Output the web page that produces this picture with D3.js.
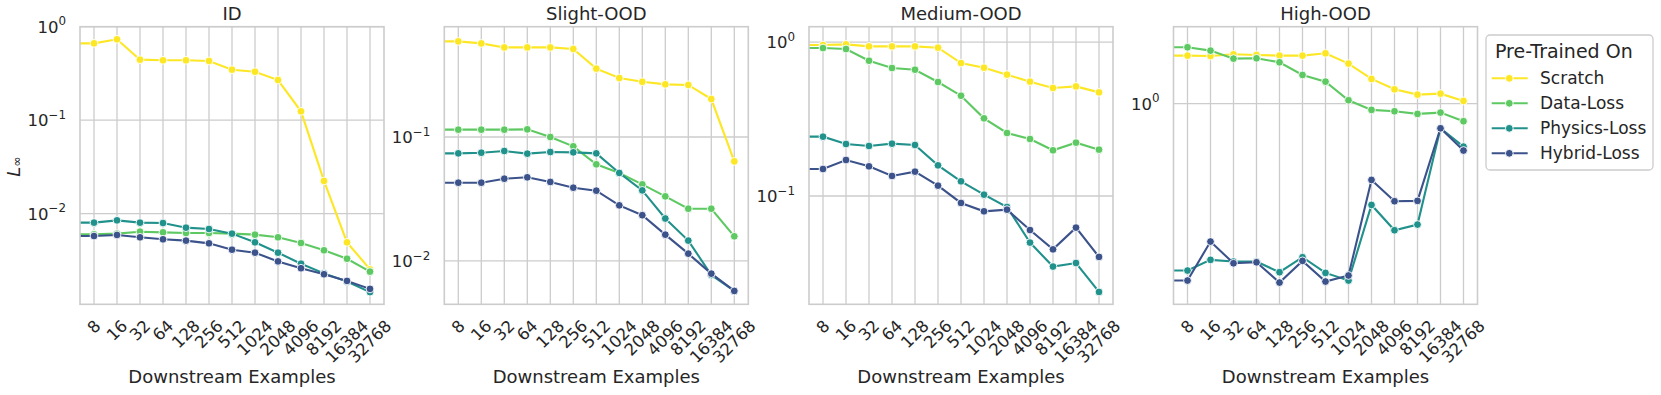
<!DOCTYPE html>
<html>
<head>
<meta charset="utf-8">
<script src="https://cdn.jsdelivr.net/npm/d3@7"></script>
<style>
  body { margin: 0; background: #fff; }
  svg { font-family: "DejaVu Sans", sans-serif; fill: #262626; }
</style>
</head>
<body>
<svg id="chart" width="1661" height="395"></svg>
<script>
// downstream example counts (4 sits left of the visible range, only its segment shows)
const downstream = [4, 8, 16, 32, 64, 128, 256, 512, 1024, 2048, 4096, 8192, 16384, 32768];
const xTicks = [8, 16, 32, 64, 128, 256, 512, 1024, 2048, 4096, 8192, 16384, 32768];
const methods = ["Scratch", "Data-Loss", "Physics-Loss", "Hybrid-Loss"];
const colors = ["#fde725", "#5ec962", "#21918c", "#3b528b"];
const panelTitles = ["ID", "Slight-OOD", "Medium-OOD", "High-OOD"];

// ID
const idScratch = [0.664, 0.664, 0.733, 0.444, 0.437, 0.437, 0.430, 0.347, 0.330, 0.269, 0.1244, 0.0224, 0.00494, 0.00254];
const idData    = [0.00602, 0.00602, 0.00612, 0.00642, 0.00632, 0.00622, 0.00622, 0.00612, 0.00597, 0.00559, 0.00486, 0.00406, 0.00330, 0.00240];
const idPhysics = [0.00802, 0.00802, 0.00849, 0.00802, 0.00795, 0.00709, 0.00686, 0.00612, 0.00494, 0.00383, 0.00292, 0.00230, 0.00188, 0.00145];
const idHybrid  = [0.00577, 0.00577, 0.00592, 0.00559, 0.00532, 0.00515, 0.00482, 0.00412, 0.00383, 0.00309, 0.00261, 0.00225, 0.00191, 0.00157];

// Slight-OOD
const slightScratch = [0.591, 0.591, 0.569, 0.528, 0.528, 0.528, 0.513, 0.356, 0.299, 0.279, 0.266, 0.263, 0.2025, 0.0636];
const slightData    = [0.1146, 0.1146, 0.1146, 0.1146, 0.1153, 0.100, 0.0841, 0.0602, 0.0513, 0.0415, 0.0332, 0.0264, 0.0264, 0.0158];
const slightPhysics = [0.0738, 0.0738, 0.0747, 0.0771, 0.0734, 0.0757, 0.0752, 0.0738, 0.0513, 0.0371, 0.0220, 0.0146, 0.00771, 0.00573];
const slightHybrid  = [0.0428, 0.0428, 0.0428, 0.0461, 0.0473, 0.0434, 0.0390, 0.0369, 0.0281, 0.0234, 0.0163, 0.01146, 0.00790, 0.00573];

// Medium-OOD
const mediumScratch = [0.956, 0.956, 0.966, 0.937, 0.937, 0.937, 0.919, 0.730, 0.681, 0.614, 0.553, 0.503, 0.515, 0.471];
const mediumData    = [0.914, 0.914, 0.901, 0.756, 0.678, 0.661, 0.550, 0.448, 0.3194, 0.2565, 0.2345, 0.198, 0.222, 0.200];
const mediumPhysics = [0.2428, 0.2428, 0.2176, 0.2112, 0.2187, 0.2144, 0.1581, 0.1245, 0.1020, 0.0848, 0.0498, 0.0348, 0.0367, 0.0238];
const mediumHybrid  = [0.1497, 0.1497, 0.1713, 0.1558, 0.1349, 0.1439, 0.1167, 0.0901, 0.0795, 0.0815, 0.0601, 0.0450, 0.0623, 0.0402];

// High-OOD
const highScratch = [1.617, 1.617, 1.611, 1.638, 1.627, 1.617, 1.617, 1.655, 1.493, 1.280, 1.154, 1.094, 1.105, 1.027];
const highData    = [1.758, 1.758, 1.700, 1.569, 1.574, 1.512, 1.332, 1.246, 1.034, 0.939, 0.926, 0.902, 0.914, 0.838];
const highPhysics = [0.1879, 0.1879, 0.2091, 0.2056, 0.2056, 0.1848, 0.2147, 0.1835, 0.1700, 0.3625, 0.2813, 0.2978, 0.781, 0.650];
const highHybrid  = [0.1700, 0.1700, 0.2512, 0.2021, 0.2041, 0.1666, 0.2070, 0.1683, 0.1788, 0.4657, 0.3762, 0.3775, 0.781, 0.625];

// y ranges and y ticks per panel
const yDomains = [[0.001074, 1.0], [0.004472, 0.7759], [0.01979, 1.2577], [0.134, 2.16]];
const yTicks = [[0.01, 0.1, 1], [0.01, 0.1], [0.1, 1], [1]];

const panelSeries = [
  [idScratch, idData, idPhysics, idHybrid],
  [slightScratch, slightData, slightPhysics, slightHybrid],
  [mediumScratch, mediumData, mediumPhysics, mediumHybrid],
  [highScratch, highData, highPhysics, highHybrid]
];

const svg = d3.select("#chart");
const panelLefts = [80, 444.3, 809, 1173.5];
const panelW = 304, axTop = 26.7, panelH = 277.6;
const gridColor = "#cccccc";
const tickFont = 16.5;

/* superscript-style log tick label */
function expLabel(sel, v) {
  const e = Math.round(Math.log10(v));
  sel.append("tspan").text("10");
  sel.append("tspan").attr("dy", "-0.45em").style("font-size", "0.72em")
    .text(e < 0 ? "\u2212" + (-e) : String(e));
}

panelSeries.forEach((series, p) => {
  const g = svg.append("g").attr("transform", `translate(${panelLefts[p]},${axTop})`);

  // keep 8 and 32768 about 0.61 octave from the spines
  const pad = Math.pow(2, 14 / 23);
  const x = d3.scaleLog().base(2).domain([8 / pad, 32768 * pad]).range([0, panelW]);
  const y = d3.scaleLog().domain(yDomains[p]).range([panelH, 0]);

  // grid
  g.append("g").selectAll("line").data(xTicks).join("line")
    .attr("x1", d => x(d)).attr("x2", d => x(d)).attr("y1", 0).attr("y2", panelH)
    .attr("stroke", gridColor).attr("stroke-width", 1.3);
  g.append("g").selectAll("line").data(yTicks[p]).join("line")
    .attr("x1", 0).attr("x2", panelW).attr("y1", d => y(d)).attr("y2", d => y(d))
    .attr("stroke", gridColor).attr("stroke-width", 1.3);

  // series
  const clipId = `clip-${p}`;
  g.append("clipPath").attr("id", clipId).append("rect")
    .attr("width", panelW).attr("height", panelH);
  const plot = g.append("g").attr("clip-path", `url(#${clipId})`);
  const line = d3.line().x(d => x(d[0])).y(d => y(d[1]));

  series.forEach((vals, i) => {
    const pts = downstream.map((d, j) => [d, vals[j]]);
    plot.append("path").datum(pts).attr("d", line)
      .attr("fill", "none").attr("stroke", colors[i]).attr("stroke-width", 2.1);
    plot.append("g").selectAll("circle").data(pts).join("circle")
      .attr("cx", d => x(d[0])).attr("cy", d => y(d[1])).attr("r", 3.9)
      .attr("fill", colors[i]).attr("stroke", "#fff").attr("stroke-width", 0.9);
  });

  // spines
  g.append("rect").attr("width", panelW).attr("height", panelH)
    .attr("fill", "none").attr("stroke", gridColor).attr("stroke-width", 1.6);

  // y tick labels
  yTicks[p].forEach(v => {
    const t = g.append("text").attr("x", -14).attr("y", y(v))
      .attr("text-anchor", "end").attr("dominant-baseline", "central")
      .style("font-size", tickFont + "px");
    expLabel(t, v);
  });

  // x tick labels, rotated 45 deg and centred under each tick
  xTicks.forEach(v => {
    const t = g.append("text").text(v)
      .attr("text-anchor", "middle").attr("dominant-baseline", "central")
      .style("font-size", tickFont + "px");
    const w = t.node().getComputedTextLength();
    const h = tickFont * 1.16;
    const cy = panelH + 12 + (w + h) * Math.SQRT1_2 / 2;
    t.attr("transform", `translate(${x(v)},${cy}) rotate(-45)`);
  });

  // title and x label
  g.append("text").attr("x", panelW / 2).attr("y", -6.5)
    .attr("text-anchor", "middle").style("font-size", "18px").text(panelTitles[p]);
  g.append("text").attr("x", panelW / 2).attr("y", 383 - axTop)
    .attr("text-anchor", "middle").style("font-size", "18px").text("Downstream Examples");
});

// y label L_inf
const yl = svg.append("text").attr("transform", `translate(20,${axTop + panelH / 2 + 1}) rotate(-90)`)
  .attr("text-anchor", "middle").style("font-size", "18px");
yl.append("tspan").style("font-style", "italic").text("L");
yl.append("tspan").attr("dy", "0.1em").style("font-size", "0.7em").text("\u221e");

// legend
const lg = svg.append("g").attr("transform", "translate(1486,35)");
lg.append("rect").attr("width", 167).attr("height", 135).attr("rx", 4)
  .attr("fill", "#fff").attr("fill-opacity", 0.8)
  .attr("stroke", gridColor).attr("stroke-width", 1.3);
lg.append("text").attr("x", 9).attr("y", 23).style("font-size", "19px").text("Pre-Trained On");
methods.forEach((m, i) => {
  const ly = 43.3 + i * 25;
  lg.append("line").attr("x1", 5.7).attr("x2", 41.7).attr("y1", ly).attr("y2", ly)
    .attr("stroke", colors[i]).attr("stroke-width", 2.1);
  lg.append("circle").attr("cx", 23.3).attr("cy", ly).attr("r", 3.9)
    .attr("fill", colors[i]).attr("stroke", "#fff").attr("stroke-width", 0.9);
  lg.append("text").attr("x", 54).attr("y", ly).attr("dominant-baseline", "central")
    .style("font-size", "17px").text(m);
});
</script>
</body>
</html>
